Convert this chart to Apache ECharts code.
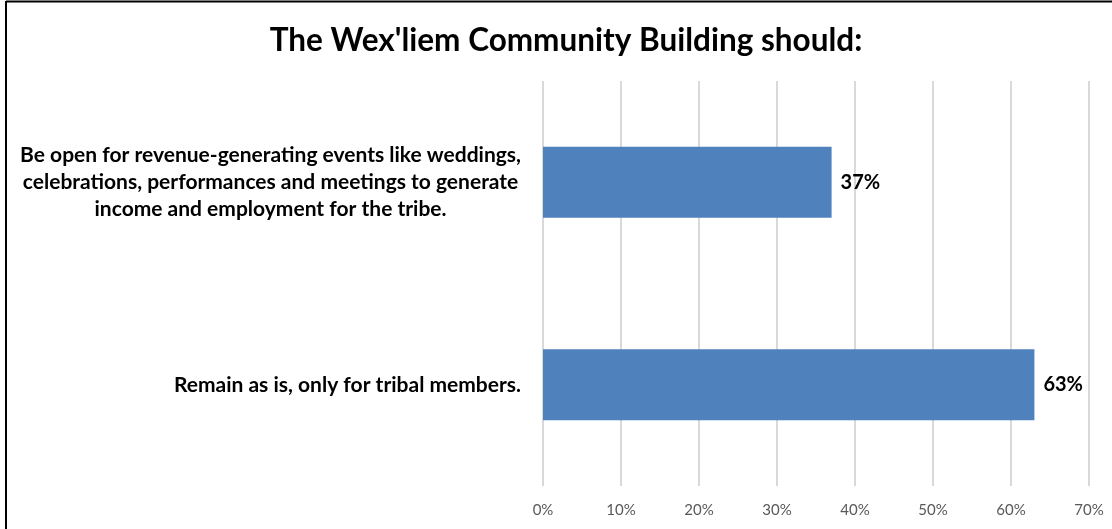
<!DOCTYPE html>
<html>
<head>
<meta charset="utf-8">
<script src="https://cdn.jsdelivr.net/npm/echarts@6/dist/echarts.min.js"></script>
<style>
  html, body { margin: 0; padding: 0; background: #fff; }
  #chart { width: 1112px; height: 529px; }
</style>
</head>
<body>
<div id="chart"></div>
<script>
// Survey answers, top to bottom
const categories = [
  "Be open for revenue-generating events like weddings,\ncelebrations, performances and meetings to generate\nincome and employment for the tribe.",
  "Remain as is, only for tribal members."
];
// Share of respondents (percent)
const shares = [37, 63];
const titleText = "The Wex'liem Community Building should:";
const axisMax = 70;
const axisStep = 10;

const chart = echarts.init(document.getElementById('chart'));
const font = 'Lato, "Open Sans", sans-serif';

chart.setOption({
  animation: false,
  backgroundColor: '#fff',
  title: {
    text: titleText,
    left: 561,
    textAlign: 'center',
    top: 20,
    textStyle: { fontFamily: font, fontWeight: 'bold', fontSize: 31.5, color: '#000' }
  },
  graphic: [
    { type: 'line', shape: { x1: 6, y1: 1.5, x2: 1112, y2: 1.5 }, style: { stroke: '#000', lineWidth: 2 } },
    { type: 'line', shape: { x1: 6, y1: 1, x2: 6, y2: 529 }, style: { stroke: '#000', lineWidth: 2 } }
  ],
  grid: { left: 543, right: 23, top: 81, bottom: 43, containLabel: false },
  xAxis: {
    type: 'value',
    min: 0,
    max: axisMax,
    interval: axisStep,
    axisLine: { show: false },
    axisTick: { show: false },
    splitLine: { show: true, lineStyle: { color: '#d9d9d9', width: 2 } },
    axisLabel: {
      formatter: v => v + '%',
      color: '#595959',
      fontFamily: font,
      fontSize: 15,
      margin: 17
    }
  },
  yAxis: {
    type: 'category',
    data: categories,
    inverse: true,
    axisLine: { show: false },
    axisTick: { show: false },
    axisLabel: {
      margin: 22,
      align: 'right',
      lineHeight: 27,
      // each wrapped line is centred inside the label block
      formatter: v => v.split('\n').map(s => '{c|' + s + '}').join('\n'),
      rich: {
        c: { align: 'center', fontFamily: font, fontWeight: 'bold', fontSize: 21, color: '#000', lineHeight: 27 }
      }
    }
  },
  series: [{
    type: 'bar',
    data: shares,
    barWidth: 71,
    itemStyle: { color: '#4f81bd' },
    label: {
      show: true,
      position: 'right',
      distance: 9,
      formatter: p => p.value + '%',
      fontFamily: font,
      fontWeight: 'bold',
      fontSize: 20,
      color: '#000'
    }
  }]
});
</script>
</body>
</html>
